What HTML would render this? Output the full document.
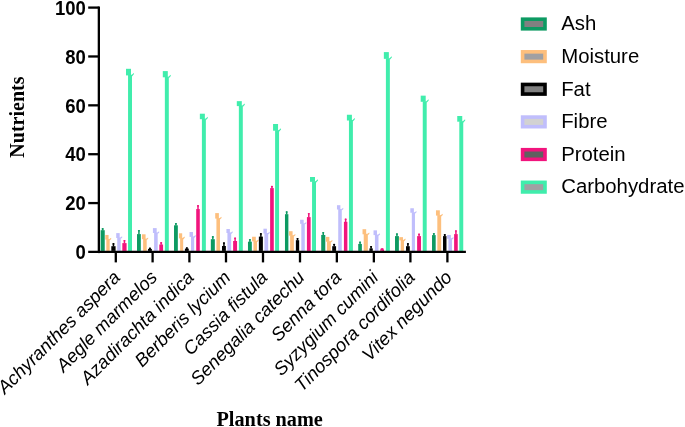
<!DOCTYPE html>
<html lang="en"><head><meta charset="utf-8"><title>Nutrients by plant</title>
<style>html,body{margin:0;padding:0;background:#fff}body{width:685px;height:427px;overflow:hidden}svg{display:block;will-change:transform}.yt{font:bold 18.5px "Liberation Sans",Arial,sans-serif;text-anchor:end}.xl{font:italic 18.5px "Liberation Sans",Arial,sans-serif;text-anchor:end}.lg{font:20.35px "Liberation Sans",Arial,sans-serif}.tt{font:bold 20px "Liberation Serif","Times New Roman",serif}</style></head><body>
<svg width="685" height="427" viewBox="0 0 685 427">
<rect width="685" height="427" fill="#fff"/>
<g>
<rect x="100.62" y="230.2" width="4.11" height="20.7" fill="#0d9a62"/>
<rect x="101.92" y="228.4" width="1.5" height="2.1" fill="#0d9a62"/>
<rect x="101.62" y="228.1" width="2.1" height="1.6" rx="0.8" fill="#0d9a62"/>
<rect x="106.32" y="239.1" width="3.36" height="11.8" fill="#fdbf7d"/>
<rect x="105.32" y="234.95" width="3.26" height="4.65" fill="#fdbf7d"/>
<path d="M109.08 239.3 L111.08 237.8 L111.28 239 L109.63 240.6 Z" fill="#fdbf7d"/>
<rect x="111.32" y="246.2" width="4.26" height="4.7" fill="#000000"/>
<rect x="112.7" y="243.4" width="1.5" height="3.1" fill="#000000"/>
<rect x="112.4" y="243.1" width="2.1" height="1.6" rx="0.8" fill="#000000"/>
<rect x="117.22" y="237.5" width="3.46" height="13.4" fill="#c0befc"/>
<rect x="116.22" y="233.1" width="3.46" height="4.9" fill="#c0befc"/>
<path d="M120.08 237.7 L122.08 236.2 L122.28 237.4 L120.63 239 Z" fill="#c0befc"/>
<rect x="122.32" y="243.1" width="4.26" height="7.8" fill="#f1147d"/>
<rect x="123.7" y="240.3" width="1.5" height="3.1" fill="#f1147d"/>
<rect x="123.4" y="240" width="2.1" height="1.6" rx="0.8" fill="#f1147d"/>
<rect x="128.05" y="74.9" width="3.95" height="176" fill="#40edac"/>
<rect x="126" y="68.8" width="5" height="6.6" fill="#40edac"/>
<path d="M131.4 75.1 L133.8 72.9 L134 74.1 L131.95 76.4 Z" fill="#40edac"/>
</g>
<g>
<rect x="137.02" y="234.1" width="3.81" height="16.8" fill="#0d9a62"/>
<rect x="138.18" y="230.3" width="1.5" height="4.1" fill="#0d9a62"/>
<rect x="137.88" y="230" width="2.1" height="1.6" rx="0.8" fill="#0d9a62"/>
<rect x="143.12" y="238.7" width="3.56" height="12.2" fill="#fdbf7d"/>
<rect x="141.97" y="234.3" width="3.61" height="4.9" fill="#fdbf7d"/>
<path d="M146.08 238.9 L148.08 237.4 L148.28 238.6 L146.63 240.2 Z" fill="#fdbf7d"/>
<rect x="148.02" y="248.9" width="3.86" height="2" fill="#000000"/>
<rect x="149.2" y="247.9" width="1.5" height="1.3" fill="#000000"/>
<rect x="148.9" y="247.6" width="2.1" height="1.6" rx="0.8" fill="#000000"/>
<rect x="154.12" y="232.5" width="3.56" height="18.4" fill="#c0befc"/>
<rect x="152.92" y="228.1" width="3.76" height="4.9" fill="#c0befc"/>
<path d="M157.08 232.7 L159.08 231.2 L159.28 232.4 L157.63 234 Z" fill="#c0befc"/>
<rect x="159.32" y="244.5" width="3.76" height="6.4" fill="#f1147d"/>
<rect x="160.45" y="242.4" width="1.5" height="2.4" fill="#f1147d"/>
<rect x="160.15" y="242.1" width="2.1" height="1.6" rx="0.8" fill="#f1147d"/>
<rect x="164.85" y="76.8" width="3.95" height="174.1" fill="#40edac"/>
<rect x="162.8" y="71.1" width="5" height="6.2" fill="#40edac"/>
<path d="M168.2 77 L170.6 74.8 L170.8 76 L168.75 78.3 Z" fill="#40edac"/>
</g>
<g>
<rect x="174.02" y="225.3" width="3.81" height="25.6" fill="#0d9a62"/>
<rect x="175.18" y="223.3" width="1.5" height="2.3" fill="#0d9a62"/>
<rect x="174.88" y="223" width="2.1" height="1.6" rx="0.8" fill="#0d9a62"/>
<rect x="180.12" y="237.9" width="3.06" height="13" fill="#fdbf7d"/>
<rect x="178.97" y="233.3" width="3.21" height="5.1" fill="#fdbf7d"/>
<path d="M182.58 238.1 L184.58 236.6 L184.78 237.8 L183.13 239.4 Z" fill="#fdbf7d"/>
<rect x="184.92" y="248.6" width="3.86" height="2.3" fill="#000000"/>
<rect x="186.1" y="247.5" width="1.5" height="1.4" fill="#000000"/>
<rect x="185.8" y="247.2" width="2.1" height="1.6" rx="0.8" fill="#000000"/>
<rect x="191.02" y="236.4" width="3.16" height="14.5" fill="#c0befc"/>
<rect x="189.52" y="232" width="3.46" height="4.9" fill="#c0befc"/>
<path d="M193.58 236.6 L195.58 235.1 L195.78 236.3 L194.13 237.9 Z" fill="#c0befc"/>
<rect x="196.22" y="209.05" width="3.56" height="41.85" fill="#f1147d"/>
<rect x="197.25" y="205.4" width="1.5" height="3.95" fill="#f1147d"/>
<rect x="196.95" y="205.1" width="2.1" height="1.6" rx="0.8" fill="#f1147d"/>
<rect x="201.9" y="118.7" width="3.95" height="132.2" fill="#40edac"/>
<rect x="199.85" y="113.7" width="5" height="5.5" fill="#40edac"/>
<path d="M205.25 118.9 L207.65 116.7 L207.85 117.9 L205.8 120.2 Z" fill="#40edac"/>
</g>
<g>
<rect x="210.82" y="239.2" width="4.01" height="11.7" fill="#0d9a62"/>
<rect x="212.07" y="236.4" width="1.5" height="3.1" fill="#0d9a62"/>
<rect x="211.77" y="236.1" width="2.1" height="1.6" rx="0.8" fill="#0d9a62"/>
<rect x="216.42" y="218.1" width="3.56" height="32.8" fill="#fdbf7d"/>
<rect x="215.22" y="213.1" width="3.66" height="5.5" fill="#fdbf7d"/>
<path d="M219.38 218.3 L221.38 216.8 L221.58 218 L219.93 219.6 Z" fill="#fdbf7d"/>
<rect x="222.02" y="246" width="3.86" height="4.9" fill="#000000"/>
<rect x="223.2" y="242.6" width="1.5" height="3.7" fill="#000000"/>
<rect x="222.9" y="242.3" width="2.1" height="1.6" rx="0.8" fill="#000000"/>
<rect x="227.42" y="232.5" width="3.76" height="18.4" fill="#c0befc"/>
<rect x="226.42" y="229" width="3.46" height="4" fill="#c0befc"/>
<path d="M230.58 232.7 L232.58 231.2 L232.78 232.4 L231.13 234 Z" fill="#c0befc"/>
<rect x="233.12" y="241" width="3.96" height="9.9" fill="#f1147d"/>
<rect x="234.35" y="237.7" width="1.5" height="3.6" fill="#f1147d"/>
<rect x="234.05" y="237.4" width="2.1" height="1.6" rx="0.8" fill="#f1147d"/>
<rect x="238.85" y="105.6" width="3.95" height="145.3" fill="#40edac"/>
<rect x="236.8" y="101.15" width="5" height="4.95" fill="#40edac"/>
<path d="M242.2 105.8 L244.6 103.6 L244.8 104.8 L242.75 107.1 Z" fill="#40edac"/>
</g>
<g>
<rect x="247.97" y="241.7" width="3.86" height="9.2" fill="#0d9a62"/>
<rect x="249.15" y="239.35" width="1.5" height="2.65" fill="#0d9a62"/>
<rect x="248.85" y="239.05" width="2.1" height="1.6" rx="0.8" fill="#0d9a62"/>
<rect x="253.42" y="240.8" width="3.56" height="10.1" fill="#fdbf7d"/>
<rect x="252.07" y="236.75" width="3.71" height="4.55" fill="#fdbf7d"/>
<path d="M256.38 241 L258.38 239.5 L258.58 240.7 L256.93 242.3 Z" fill="#fdbf7d"/>
<rect x="258.87" y="236.6" width="4.01" height="14.3" fill="#000000"/>
<rect x="260.12" y="233.4" width="1.5" height="3.5" fill="#000000"/>
<rect x="259.82" y="233.1" width="2.1" height="1.6" rx="0.8" fill="#000000"/>
<rect x="264.42" y="233" width="3.76" height="17.9" fill="#c0befc"/>
<rect x="263.42" y="228.7" width="3.46" height="4.8" fill="#c0befc"/>
<path d="M267.58 233.2 L269.58 231.7 L269.78 232.9 L268.13 234.5 Z" fill="#c0befc"/>
<rect x="270.12" y="188.1" width="3.66" height="62.8" fill="#f1147d"/>
<rect x="271.2" y="186.1" width="1.5" height="2.3" fill="#f1147d"/>
<rect x="270.9" y="185.8" width="2.1" height="1.6" rx="0.8" fill="#f1147d"/>
<rect x="275.1" y="130.2" width="3.95" height="120.7" fill="#40edac"/>
<rect x="273.05" y="124" width="5" height="6.7" fill="#40edac"/>
<path d="M278.45 130.4 L280.85 128.2 L281.05 129.4 L279 131.7 Z" fill="#40edac"/>
</g>
<g>
<rect x="284.97" y="214.2" width="3.41" height="36.7" fill="#0d9a62"/>
<rect x="285.93" y="211.45" width="1.5" height="3.05" fill="#0d9a62"/>
<rect x="285.62" y="211.15" width="2.1" height="1.6" rx="0.8" fill="#0d9a62"/>
<rect x="290.12" y="235.2" width="3.76" height="15.7" fill="#fdbf7d"/>
<rect x="289.07" y="231.2" width="3.51" height="4.5" fill="#fdbf7d"/>
<path d="M293.28 235.4 L295.28 233.9 L295.48 235.1 L293.83 236.7 Z" fill="#fdbf7d"/>
<rect x="295.87" y="240.2" width="3.31" height="10.7" fill="#000000"/>
<rect x="296.78" y="238.3" width="1.5" height="2.2" fill="#000000"/>
<rect x="296.48" y="238" width="2.1" height="1.6" rx="0.8" fill="#000000"/>
<rect x="301.32" y="223.35" width="3.46" height="27.55" fill="#c0befc"/>
<rect x="300.12" y="219.75" width="3.56" height="4.1" fill="#c0befc"/>
<path d="M304.18 223.55 L306.18 222.05 L306.38 223.25 L304.73 224.85 Z" fill="#c0befc"/>
<rect x="306.92" y="217.1" width="3.71" height="33.8" fill="#f1147d"/>
<rect x="308.03" y="213.3" width="1.5" height="4.1" fill="#f1147d"/>
<rect x="307.73" y="213" width="2.1" height="1.6" rx="0.8" fill="#f1147d"/>
<rect x="312.05" y="181.3" width="3.95" height="69.6" fill="#40edac"/>
<rect x="310" y="177" width="5" height="4.8" fill="#40edac"/>
<path d="M315.4 181.5 L317.8 179.3 L318 180.5 L315.95 182.8 Z" fill="#40edac"/>
</g>
<g>
<rect x="321.22" y="234.95" width="4.06" height="15.95" fill="#0d9a62"/>
<rect x="322.5" y="232.3" width="1.5" height="2.95" fill="#0d9a62"/>
<rect x="322.2" y="232" width="2.1" height="1.6" rx="0.8" fill="#0d9a62"/>
<rect x="326.97" y="241.2" width="3.86" height="9.7" fill="#fdbf7d"/>
<rect x="325.92" y="236.9" width="3.46" height="4.8" fill="#fdbf7d"/>
<path d="M330.23 241.4 L332.23 239.9 L332.43 241.1 L330.78 242.7 Z" fill="#fdbf7d"/>
<rect x="332.22" y="246.2" width="3.86" height="4.7" fill="#000000"/>
<rect x="333.4" y="244" width="1.5" height="2.5" fill="#000000"/>
<rect x="333.1" y="243.7" width="2.1" height="1.6" rx="0.8" fill="#000000"/>
<rect x="338.22" y="209" width="3.56" height="41.9" fill="#c0befc"/>
<rect x="336.97" y="205.2" width="3.41" height="4.3" fill="#c0befc"/>
<path d="M341.18 209.2 L343.18 207.7 L343.38 208.9 L341.73 210.5 Z" fill="#c0befc"/>
<rect x="343.92" y="221.8" width="3.46" height="29.1" fill="#f1147d"/>
<rect x="344.9" y="218.8" width="1.5" height="3.3" fill="#f1147d"/>
<rect x="344.6" y="218.5" width="2.1" height="1.6" rx="0.8" fill="#f1147d"/>
<rect x="348.95" y="120" width="3.95" height="130.9" fill="#40edac"/>
<rect x="346.9" y="114.75" width="5" height="5.75" fill="#40edac"/>
<path d="M352.3 120.2 L354.7 118 L354.9 119.2 L352.85 121.5 Z" fill="#40edac"/>
</g>
<g>
<rect x="358.22" y="243.95" width="3.66" height="6.95" fill="#0d9a62"/>
<rect x="359.3" y="241.8" width="1.5" height="2.45" fill="#0d9a62"/>
<rect x="359" y="241.5" width="2.1" height="1.6" rx="0.8" fill="#0d9a62"/>
<rect x="363.72" y="233.8" width="4.11" height="17.1" fill="#fdbf7d"/>
<rect x="362.52" y="229.2" width="3.66" height="5.1" fill="#fdbf7d"/>
<path d="M367.23 234 L369.23 232.5 L369.43 233.7 L367.78 235.3 Z" fill="#fdbf7d"/>
<rect x="369.42" y="248.4" width="3.36" height="2.5" fill="#000000"/>
<rect x="370.35" y="246.2" width="1.5" height="2.5" fill="#000000"/>
<rect x="370.05" y="245.9" width="2.1" height="1.6" rx="0.8" fill="#000000"/>
<rect x="374.92" y="234.6" width="3.56" height="16.3" fill="#c0befc"/>
<rect x="373.52" y="230.35" width="3.46" height="4.75" fill="#c0befc"/>
<path d="M377.88 234.8 L379.88 233.3 L380.08 234.5 L378.43 236.1 Z" fill="#c0befc"/>
<path d="M380.32 250.9 V249.6 Q380.32 248 382.15 248 Q383.98 248 383.98 249.6 Z" fill="#f1147d"/>
<path d="M383.98 249.6 V250.9 H380.32 Z" fill="#f1147d"/>
<rect x="385.9" y="58.35" width="3.95" height="192.55" fill="#40edac"/>
<rect x="383.85" y="52.1" width="5" height="6.75" fill="#40edac"/>
<path d="M389.25 58.55 L391.65 56.35 L391.85 57.55 L389.8 59.85 Z" fill="#40edac"/>
</g>
<g>
<rect x="395.02" y="236.1" width="3.86" height="14.8" fill="#0d9a62"/>
<rect x="396.2" y="233.6" width="1.5" height="2.8" fill="#0d9a62"/>
<rect x="395.9" y="233.3" width="2.1" height="1.6" rx="0.8" fill="#0d9a62"/>
<rect x="400.72" y="239.9" width="3.26" height="11" fill="#fdbf7d"/>
<rect x="399.32" y="237.15" width="3.66" height="3.25" fill="#fdbf7d"/>
<path d="M403.38 240.1 L405.38 238.6 L405.58 239.8 L403.93 241.4 Z" fill="#fdbf7d"/>
<rect x="406.02" y="246.2" width="3.76" height="4.7" fill="#000000"/>
<rect x="407.15" y="243.4" width="1.5" height="3.1" fill="#000000"/>
<rect x="406.85" y="243.1" width="2.1" height="1.6" rx="0.8" fill="#000000"/>
<rect x="411.82" y="212.25" width="3.16" height="38.65" fill="#c0befc"/>
<rect x="410.32" y="208.25" width="3.56" height="4.5" fill="#c0befc"/>
<path d="M414.38 212.45 L416.38 210.95 L416.58 212.15 L414.93 213.75 Z" fill="#c0befc"/>
<rect x="417.12" y="236.1" width="3.86" height="14.8" fill="#f1147d"/>
<rect x="418.3" y="233.8" width="1.5" height="2.6" fill="#f1147d"/>
<rect x="418" y="233.5" width="2.1" height="1.6" rx="0.8" fill="#f1147d"/>
<rect x="422.75" y="101.3" width="3.95" height="149.6" fill="#40edac"/>
<rect x="420.7" y="95.65" width="5" height="6.15" fill="#40edac"/>
<path d="M426.1 101.5 L428.5 99.3 L428.7 100.5 L426.65 102.8 Z" fill="#40edac"/>
</g>
<g>
<rect x="432.02" y="235.1" width="3.66" height="15.8" fill="#0d9a62"/>
<rect x="433.1" y="233.35" width="1.5" height="2.05" fill="#0d9a62"/>
<rect x="432.8" y="233.05" width="2.1" height="1.6" rx="0.8" fill="#0d9a62"/>
<rect x="437.32" y="215.1" width="3.86" height="35.8" fill="#fdbf7d"/>
<rect x="435.97" y="210.3" width="3.86" height="5.3" fill="#fdbf7d"/>
<path d="M440.58 215.3 L442.58 213.8 L442.78 215 L441.13 216.6 Z" fill="#fdbf7d"/>
<rect x="443.02" y="236.1" width="3.46" height="14.8" fill="#000000"/>
<rect x="444" y="234.4" width="1.5" height="2" fill="#000000"/>
<rect x="443.7" y="234.1" width="2.1" height="1.6" rx="0.8" fill="#000000"/>
<rect x="448.42" y="238.3" width="3.56" height="12.6" fill="#c0befc"/>
<rect x="447.12" y="234.95" width="3.76" height="3.85" fill="#c0befc"/>
<path d="M451.38 238.5 L453.38 237 L453.58 238.2 L451.93 239.8 Z" fill="#c0befc"/>
<rect x="454.12" y="234.1" width="3.61" height="16.8" fill="#f1147d"/>
<rect x="455.18" y="230.5" width="1.5" height="3.9" fill="#f1147d"/>
<rect x="454.88" y="230.2" width="2.1" height="1.6" rx="0.8" fill="#f1147d"/>
<rect x="459.3" y="121.2" width="3.95" height="129.7" fill="#40edac"/>
<rect x="457.25" y="116" width="5" height="5.7" fill="#40edac"/>
<path d="M462.65 121.4 L465.05 119.2 L465.25 120.4 L463.2 122.7 Z" fill="#40edac"/>
</g>
<g stroke="#000" stroke-width="2.3" fill="none" stroke-linecap="butt">
<path d="M98.85 6.5 V253.1"/>
<path d="M88.2 251.95 H465.9"/>
<path d="M88.2 203.08 H98.85"/>
<path d="M88.2 154.21 H98.85"/>
<path d="M88.2 105.34 H98.85"/>
<path d="M88.2 56.47 H98.85"/>
<path d="M88.2 7.6 H98.85"/>
<path d="M115.8 251.95 V262.4"/>
<path d="M152.6 251.95 V262.4"/>
<path d="M189.4 251.95 V262.4"/>
<path d="M226 251.95 V262.4"/>
<path d="M263 251.95 V262.4"/>
<path d="M300 251.95 V262.4"/>
<path d="M336.85 251.95 V262.4"/>
<path d="M373.85 251.95 V262.4"/>
<path d="M410.4 251.95 V262.4"/>
<path d="M447.4 251.95 V262.4"/>
</g>
<text class="yt" transform="translate(85.9 259.15) scale(1 1.045)">0</text>
<text class="yt" transform="translate(85.9 210.28) scale(1 1.045)">20</text>
<text class="yt" transform="translate(85.9 161.41) scale(1 1.045)">40</text>
<text class="yt" transform="translate(85.9 112.54) scale(1 1.045)">60</text>
<text class="yt" transform="translate(85.9 63.67) scale(1 1.045)">80</text>
<text class="yt" transform="translate(85.9 14.8) scale(1 1.045)">100</text>
<text class="xl" transform="translate(121.4 278.5) rotate(-45)">Achyranthes aspera</text>
<text class="xl" transform="translate(158.2 278.5) rotate(-45)">Aegle marmelos</text>
<text class="xl" transform="translate(195 278.5) rotate(-45)">Azadirachta indica</text>
<text class="xl" transform="translate(231.6 278.5) rotate(-45)">Berberis lycium</text>
<text class="xl" transform="translate(268.6 278.5) rotate(-45)">Cassia fistula</text>
<text class="xl" transform="translate(305.6 278.5) rotate(-45)">Senegalia catechu</text>
<text class="xl" transform="translate(342.45 278.5) rotate(-45)">Senna tora</text>
<text class="xl" transform="translate(379.45 278.5) rotate(-45)">Syzygium cumini</text>
<text class="xl" transform="translate(416 278.5) rotate(-45)">Tinospora cordifolia</text>
<text class="xl" transform="translate(453 278.5) rotate(-45)">Vitex negundo</text>
<text class="tt" transform="translate(24.4 117.1) rotate(-90)" text-anchor="middle">Nutrients</text>
<text class="tt" x="216.5" y="425.8" style="font-size:20.25px">Plants name</text>
<rect x="522.6" y="19.2" width="22.4" height="9.6" fill="#808080" stroke="#0d9a62" stroke-width="3.6"/>
<text class="lg" x="561.2" y="30.3">Ash</text>
<rect x="522.6" y="51.83" width="22.4" height="9.6" fill="#a0a0a3" stroke="#fdbf7d" stroke-width="3.6"/>
<text class="lg" x="561.2" y="62.93">Moisture</text>
<rect x="522.6" y="84.46" width="22.4" height="9.6" fill="#808080" stroke="#000000" stroke-width="3.6"/>
<text class="lg" x="561.2" y="95.56">Fat</text>
<rect x="522.6" y="117.09" width="22.4" height="9.6" fill="#d2d2d2" stroke="#c0befc" stroke-width="3.6"/>
<text class="lg" x="561.2" y="128.19">Fibre</text>
<rect x="522.6" y="149.72" width="22.4" height="9.6" fill="#606060" stroke="#f1147d" stroke-width="3.6"/>
<text class="lg" x="561.2" y="160.82">Protein</text>
<rect x="522.6" y="182.35" width="22.4" height="9.6" fill="#a0a0a3" stroke="#40edac" stroke-width="3.6"/>
<text class="lg" x="561.2" y="193.45">Carbohydrate</text>
</svg></body></html>
